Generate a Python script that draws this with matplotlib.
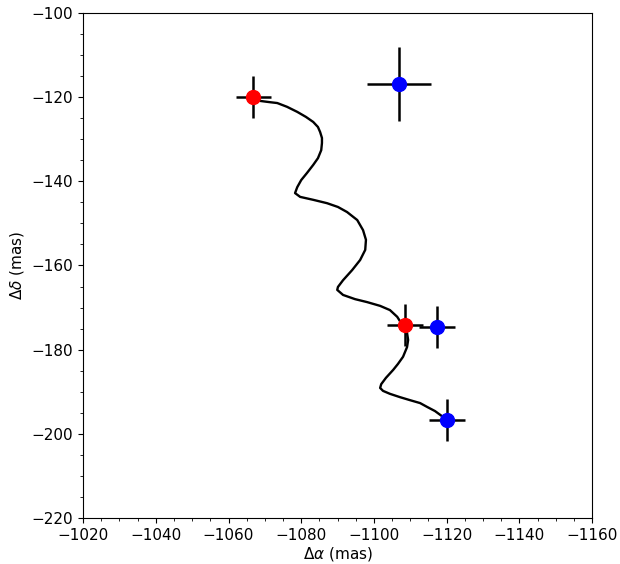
import matplotlib
matplotlib.use("Agg")
import matplotlib.pyplot as plt

plt.rcParams['font.size'] = 11

# observed positions (mas)
red_ra = [-1066.8, -1108.6]
red_dec = [-120.0, -174.1]
red_err_ra = [4.8, 5.0]
red_err_dec = [5.0, 5.0]

blue_ra = [-1106.9, -1117.4, -1120.1]
blue_dec = [-116.9, -174.6, -196.7]
blue_err_ra = [8.7, 5.0, 5.0]
blue_err_dec = [8.8, 5.0, 5.0]

# predicted track
track_ra = [-1067.9, -1068.7, -1071.4, -1073.4, -1076.1, -1078.9, -1081.3, -1083.3,
            -1084.6, -1085.2, -1085.7, -1085.7, -1085.5, -1084.6, -1083.3, -1081.6,
            -1080.0, -1078.9, -1078.3, -1079.7, -1083.3, -1087.1, -1090.1, -1092.6,
            -1095.4, -1097.0, -1097.8, -1097.6, -1096.2, -1094.0, -1091.5, -1090.1,
            -1089.9, -1091.5, -1094.8, -1098.1, -1101.7, -1104.4, -1106.4, -1107.5,
            -1108.6, -1109.1, -1109.4, -1109.1, -1108.0, -1106.6, -1105.3, -1103.3,
            -1102.0, -1101.7, -1102.5, -1104.4, -1107.2, -1109.9, -1112.7, -1114.6,
            -1116.8, -1118.7, -1120.1]
track_dec = [-120.2, -120.9, -121.2, -121.4, -122.3, -123.5, -124.7, -125.9,
             -127.1, -128.3, -129.7, -130.9, -132.6, -134.5, -136.1, -138.0,
             -139.7, -141.4, -142.8, -143.7, -144.4, -145.2, -146.1, -147.3,
             -149.2, -151.6, -153.9, -156.3, -158.7, -161.1, -163.5, -165.1,
             -165.8, -167.0, -168.0, -168.7, -169.6, -170.6, -172.2, -173.7,
             -174.9, -176.0, -177.7, -179.4, -181.7, -183.4, -184.8, -186.7,
             -188.2, -189.1, -189.8, -190.5, -191.3, -192.0, -192.7, -193.6,
             -194.6, -195.8, -196.7]

fig = plt.figure(figsize=(6.2, 5.64), dpi=100)
ax = fig.add_axes([0.134, 0.0816, 0.821, 0.8954])

ax.plot(track_ra, track_dec, color="black", lw=1.7, zorder=2,
        solid_joinstyle="round")
ax.errorbar(red_ra, red_dec, xerr=red_err_ra, yerr=red_err_dec, fmt="o",
            color="red", ms=10, ecolor="black", elinewidth=1.8, capsize=0, zorder=3)
ax.errorbar(blue_ra, blue_dec, xerr=blue_err_ra, yerr=blue_err_dec, fmt="o",
            color="blue", ms=10, ecolor="black", elinewidth=1.8, capsize=0, zorder=3)

ax.set_xlim(-1020, -1160)
ax.set_ylim(-220, -100)
ax.minorticks_on()
ax.set_xlabel(r"$\Delta\alpha$ (mas)", labelpad=1.5)
ax.set_ylabel(r"$\Delta\delta$ (mas)")

fig.savefig("out.png", dpi=100)
